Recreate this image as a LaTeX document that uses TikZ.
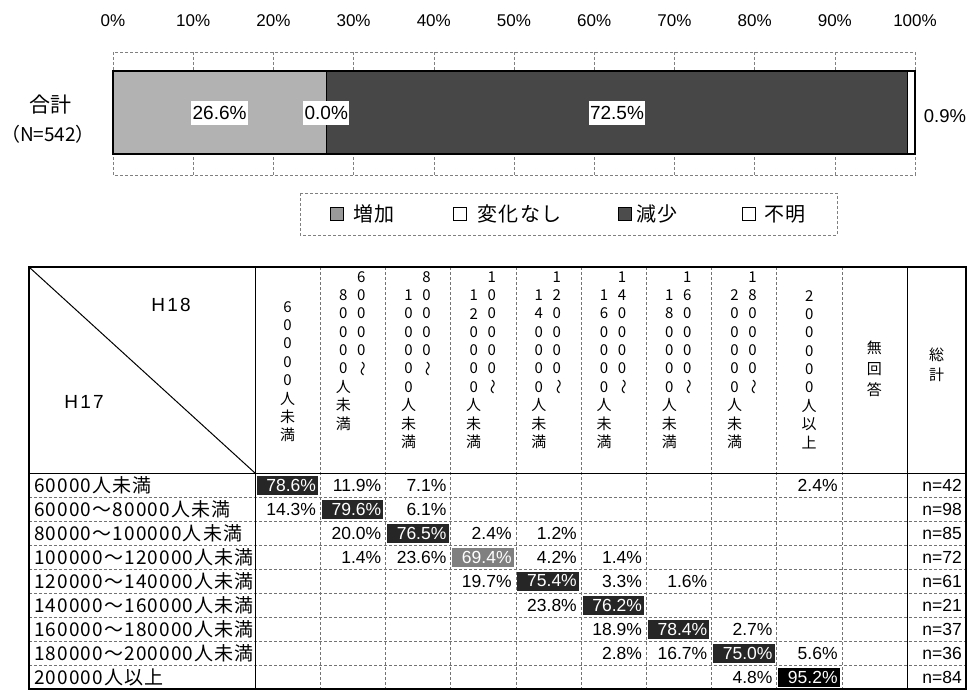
\documentclass[tikz,border=0pt]{standalone}
\usepackage{fontspec}
\setmainfont{Liberation Sans}
\newfontfamily\jp{Noto Sans CJK JP}
\newfontfamily\jprow{Noto Sans CJK JP}[LetterSpace=6]
\newfontfamily\jplgd{Noto Sans CJK JP}[LetterSpace=8]
\newfontfamily\hfont{Liberation Sans}[LetterSpace=12]
\usetikzlibrary{calc}

\newcommand{\vwave}{\rotatebox{-90}{～}}
\newcommand{\vcol}[4]{%
  \foreach \glyph [count=\idx from 0] in {#4}
    \node[hdtxt] (#1\idx) at ({#2},{#3+18.3*\idx}) {\glyph};}
\newcommand{\pcol}[4]{%
  \vcol{#1r}{#2+8.5}{277}{#3}
  \vcol{#1l}{#2-9.5}{295.3}{#4}}

\begin{document}
\begin{tikzpicture}[x=1pt,y=-1pt,
    grid/.style={gray, densely dashed, line width=0.6pt},
    inner/.style={black!55, densely dashed, line width=0.6pt},
    barlab/.style={fill=white, inner xsep=1.5pt, inner ysep=5pt, font=\fontsize{19}{19}\selectfont},
    axlab/.style={font=\fontsize{17}{17}\selectfont},
    lgd/.style={anchor=west, inner sep=0pt, font=\jplgd\fontsize{20}{20}\selectfont},
    hdtxt/.style={inner sep=0pt, font=\jp\fontsize{15}{15}\selectfont},
    rowlab/.style={anchor=west, inner sep=0pt, font=\jprow\fontsize{19}{19}\selectfont},
    cell/.style={anchor=east, inner sep=0pt, font=\fontsize{17.5}{17.5}\selectfont}]
    \useasboundingbox (0,0) rectangle (968,691);

    \foreach \p in {0,10,...,100}
        \node[axlab] (ax\p) at ({113+8.02*\p},21) {\p\%};
    \draw[grid] (113,52) rectangle (915,175);
    \foreach \p in {10,20,...,90}
        \draw[grid] ({113+8.02*\p},52) -- ({113+8.02*\p},175);

    \fill[black!30] (113,71) rectangle (326.3,154);
    \fill[black!72] (326.3,71) rectangle (907.8,154);
    \draw[line width=1.2pt] (113,71) rectangle (915,154);
    \draw[line width=1.2pt] (326.3,71) -- (326.3,154) (907.8,71) -- (907.8,154);
    \node[barlab] (inc) at (219.6,113) {26.6\%};
    \node[barlab] (same) at (326.3,113) {0.0\%};
    \node[barlab] (dec) at (617,113) {72.5\%};
    \node[font=\fontsize{18.5}{18.5}\selectfont] (unk) at (945,116) {0.9\%};
    \node[font=\jp\fontsize{21}{21}\selectfont] (total) at (50,105) {合計};
    \node[font=\jp\fontsize{19}{19}\selectfont] (totalN) at (48,134) {（N=542）};

    \draw[grid] (300,193) rectangle (837,235);
    \draw[fill=black!40] (330.5,207.5) rectangle (343.5,220.5);
    \draw[fill=white] (453.5,207.5) rectangle (466.5,220.5);
    \draw[fill=black!70] (618.5,207.5) rectangle (631.5,220.5);
    \draw[fill=white] (742.5,207.5) rectangle (755.5,220.5);
    \node[lgd] (lgInc) at (353,214) {増加};
    \node[lgd] (lgSame) at (477,214) {変化なし};
    \node[lgd] (lgDec) at (636,214) {減少};
    \node[lgd] (lgUnk) at (764,214) {不明};

    \foreach \i in {1,...,8}
        \draw[inner] (29,{473+24*\i}) -- (966,{473+24*\i});
    \foreach \j in {1,...,9}
        \draw[inner] ({255+65.2*\j},267) -- ({255+65.2*\j},689);
    \draw[line width=0.9pt] (255,267) -- (255,689) (907,267) -- (907,689) (29,473) -- (966,473);
    \draw[line width=1.4pt] (29,267) rectangle (966,689);
    \draw[line width=1pt] (29,267) -- (255,473);
    \node[font=\hfont\fontsize{19}{19}\selectfont] (h18) at (171,305) {H18};
    \node[font=\hfont\fontsize{19}{19}\selectfont] (h17) at (84,402) {H17};

    \vcol{hA}{287.6}{307}{6,0,0,0,0,人,未,満}
    \pcol{hB}{352.8}{6,0,0,0,0,\vwave}{8,0,0,0,0,人,未,満}
    \pcol{hC}{418.0}{8,0,0,0,0,\vwave}{1,0,0,0,0,0,人,未,満}
    \pcol{hD}{483.2}{1,0,0,0,0,0,\vwave}{1,2,0,0,0,0,人,未,満}
    \pcol{hE}{548.4}{1,2,0,0,0,0,\vwave}{1,4,0,0,0,0,人,未,満}
    \pcol{hF}{613.6}{1,4,0,0,0,0,\vwave}{1,6,0,0,0,0,人,未,満}
    \pcol{hG}{678.8}{1,6,0,0,0,0,\vwave}{1,8,0,0,0,0,人,未,満}
    \pcol{hH}{744.0}{1,8,0,0,0,0,\vwave}{2,0,0,0,0,0,人,未,満}
    \vcol{hI}{809.2}{296}{2,0,0,0,0,0,人,以,上}
    \node[align=center, inner sep=0pt, font=\jp\fontsize{15}{21}\selectfont] (noans) at (874.4,369) {無\\回\\答};
    \node[align=center, inner sep=0pt, font=\jp\fontsize{15}{20}\selectfont] (sum) at (936.5,365) {総\\計};

    \foreach \r [count=\i] in {60000人未満, 60000～80000人未満, 80000～100000人未満,
        100000～120000人未満, 120000～140000人未満, 140000～160000人未満,
        160000～180000人未満, 180000～200000人未満, 200000人以上}
        \node[rowlab] (row\i) at (34,{461+24*\i}) {\r};

    \foreach \r/\c/\v/\f in {1/1/78.6/black!85, 2/2/79.6/black!85, 3/3/76.5/black!85,
        4/4/69.4/black!50, 5/5/75.4/black!85, 6/6/76.2/black!85, 7/7/78.4/black!85,
        8/8/75.0/black!85, 9/9/95.2/black} {
        \fill[fill=\f] ({255+65.2*(\c-1)+1.5},{473+24*(\r-1)+2.5}) rectangle ({255+65.2*\c-2},{473+24*\r-2.5});
        \node[cell, text=white] (v\r-\c) at ({255+65.2*\c-4},{461+24*\r}) {\v\%};
    }
    \foreach \r/\c/\v in {1/2/11.9, 1/3/7.1, 1/9/2.4, 2/1/14.3, 2/3/6.1,
        3/2/20.0, 3/4/2.4, 3/5/1.2, 4/2/1.4, 4/3/23.6, 4/5/4.2, 4/6/1.4,
        5/4/19.7, 5/6/3.3, 5/7/1.6, 6/5/23.8, 7/6/18.9, 7/8/2.7,
        8/6/2.8, 8/7/16.7, 8/9/5.6, 9/8/4.8}
        \node[cell] (v\r-\c) at ({255+65.2*\c-4},{461+24*\r}) {\v\%};
    \foreach \n [count=\i] in {42,98,85,72,61,21,37,36,84}
        \node[cell] (n\i) at (962,{461+24*\i}) {n=\n};
\end{tikzpicture}
\end{document}
